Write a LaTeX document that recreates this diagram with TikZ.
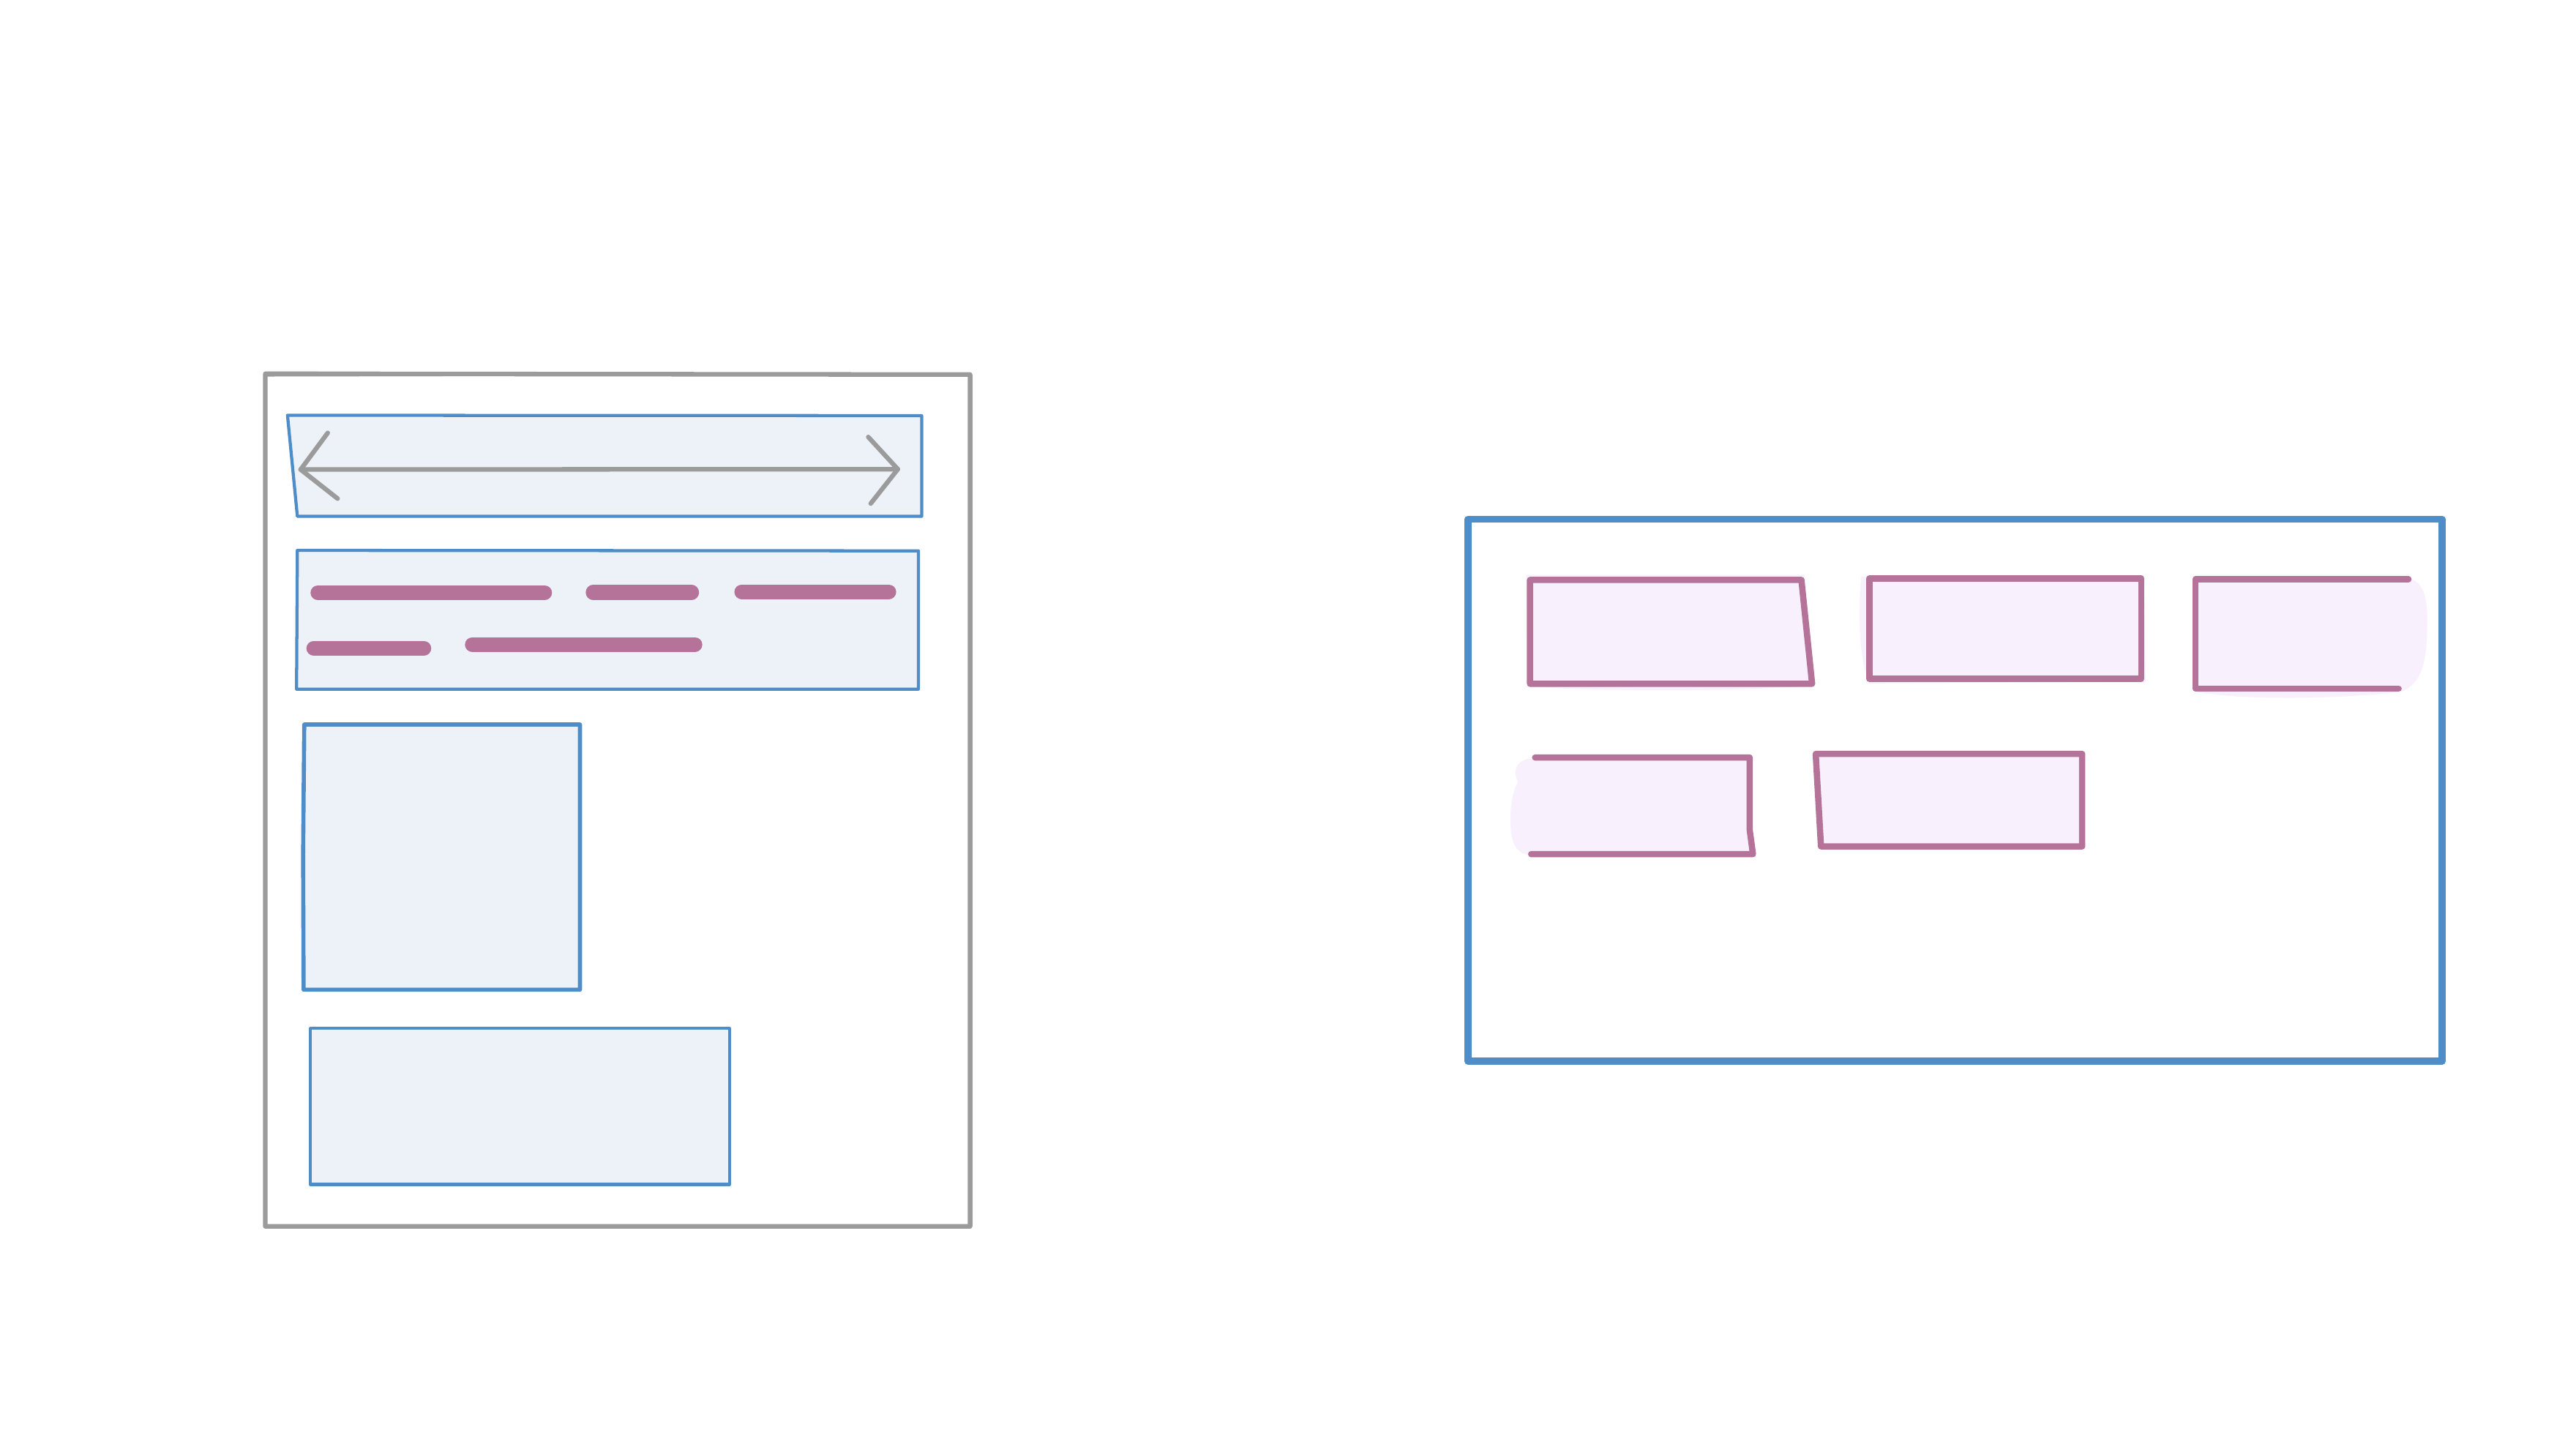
\documentclass[tikz,border=0pt]{standalone}
\definecolor{framegray}{HTML}{9B9B9B}
\definecolor{wireblue}{HTML}{4F8DC9}
\definecolor{paleblue}{HTML}{EDF2F9}
\definecolor{mauve}{HTML}{B5739A}
\definecolor{palemauve}{HTML}{F8F0FC}
\begin{document}
\begin{tikzpicture}[x=1pt, y=-1pt, line join=round, line cap=round,
  pageframe/.style={draw=framegray, line width=2.8},
  panel/.style={draw=wireblue, fill=paleblue, line width=1.9},
  arrowline/.style={draw=framegray, line width=2.8},
  pill/.style={draw=mauve, line width=9, line cap=round},
  board/.style={draw=wireblue, line width=4.2},
  cardfill/.style={fill=palemauve},
  cardline/.style={draw=mauve, line width=3.8}]
\useasboundingbox (0,0) rectangle (1568,882);
\fill[white] (0,0) rectangle (1568,882);

% ---- page wireframe ----
\draw[pageframe] (161.5,227.5) -- (590.5,228) -- (590.5,746.5) -- (161.5,746.5) -- cycle;
\fill[framegray] (161.5,226.2) -- (300,226.6) -- (590,227.4) -- (590,228.6) -- (300,228.9) -- (161.5,229.2) -- cycle;

% header strip with horizontal scroll arrow
\draw[panel] (175,252.8) -- (561,253) -- (561,314.3) -- (181,314.3) -- cycle;
\coordinate (arrL) at (183,285.8);
\coordinate (arrR) at (546.5,285.6);
\draw[arrowline] (arrL) -- (arrR);
\draw[arrowline] (199.5,263.5) -- (arrL) -- (205.5,303.5);
\draw[arrowline] (528.5,266) -- (arrR) -- (530,306.5);

% text block
\draw[panel] (181,335) -- (559,335.3) -- (559,419.5) -- (180.5,419.5) -- cycle;
\draw[pill] (193.5,360.8) -- (331.5,360.8);
\draw[pill] (361,360.6) -- (421,360.6);
\draw[pill] (451.5,360.2) -- (541,360.2);
\draw[pill] (191,394.6) -- (258,394.6);
\draw[pill] (287.5,392.3) -- (423,392.3);

% image block
\draw[panel, line width=2.5] (185.2,441) -- (353,441) -- (353,602.4) -- (184.8,602.4) -- (184.5,520) -- cycle;

% footer block
\draw[panel] (189,626) -- (444,626) -- (444,721) -- (189,721) -- cycle;

% ---- card board ----
\draw[board] (893.5,316) -- (1486.5,316) -- (1486.5,646) -- (893.5,646) -- cycle;

% card 1
\fill[cardfill] (929,350) -- (1098,350) -- (1105,417) .. controls (1060,421) and (980,421) .. (930,418) -- cycle;
\draw[cardline] (931.3,353) -- (1096.5,353) -- (1103,416.2) -- (931.3,416.2) -- cycle;

% card 2
\fill[cardfill] (1133,351) -- (1305,351) -- (1306,415) -- (1138,416) .. controls (1131,400) and (1131,370) .. cycle;
\draw[cardline] (1137.8,352.2) -- (1303.4,352.2) -- (1303.4,413.1) -- (1137.8,413.1) -- cycle;

% card 3 (open on the right)
\fill[cardfill] (1336.4,352.5) -- (1468,352.5)
  .. controls (1476,356) and (1478,365) .. (1477.3,385)
  .. controls (1476.5,405) and (1474,415) .. (1462,421)
  .. controls (1420,426) and (1360,426) .. (1338,421) -- cycle;
\draw[cardline] (1466,352.5) -- (1336.4,352.5) -- (1336.4,419.1) -- (1460,419.1);

% card 4 (open on the left)
\fill[cardfill] (1065,461.1) -- (1065,505) -- (1067,519.9) -- (932,520.5)
  .. controls (921,520) and (919,510) .. (919.5,495)
  .. controls (920,485) and (922,480) .. (924,476)
  .. controls (921,470) and (922,464) .. (930,462) -- cycle;
\draw[cardline] (934.4,461.1) -- (1065,461.1) -- (1065,505) -- (1067,519.9) -- (932,519.9);

% card 5
\fill[cardfill] (1105.2,458.9) -- (1266.4,458.9) -- (1268.5,490) -- (1266.4,515.2) -- (1108.4,515.2) -- cycle;
\draw[cardline] (1105.2,458.9) -- (1267.4,458.9) -- (1267.4,515.2) -- (1108.4,515.2) -- cycle;
\end{tikzpicture}
\end{document}
